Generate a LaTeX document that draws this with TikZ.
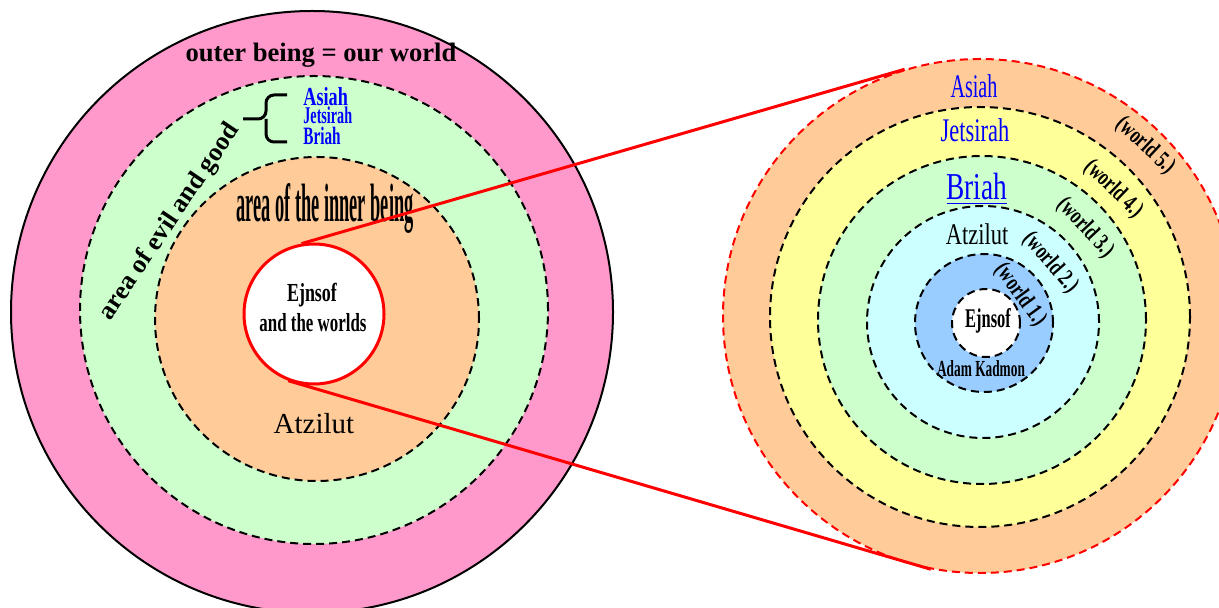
\documentclass[tikz,border=0pt]{standalone}
\usepackage{fontspec}
\setmainfont{Liberation Serif}
\definecolor{ringpink}{HTML}{FF99CC}
\definecolor{ringgreen}{HTML}{CCFFCC}
\definecolor{ringpeach}{HTML}{FFCC99}
\definecolor{ringyellow}{HTML}{FFFF99}
\definecolor{ringcyan}{HTML}{CCFFFF}
\definecolor{ringblue}{HTML}{99CCFF}
\definecolor{worldblue}{HTML}{0000FF}
\usepackage{tikz}
\newcommand{\narrow}[2]{\scalebox{#1}[1]{#2}}
\newcommand{\fsize}[1]{\fontsize{#1}{1.2\dimexpr#1pt\relax}\selectfont}
\tikzset{
  ring/.style={circle,draw=black,dash pattern=on 4pt off 2.5pt,line width=1pt,inner sep=0pt},
  redline/.style={red,line width=1.5pt},
  lbl/.style={inner sep=0pt,anchor=base},
  worldlbl/.style={inner sep=0pt,font=\fsize{12}\bfseries}
}

\begin{document}
\begin{tikzpicture}[x=0.5pt,y=-0.5pt]
  \useasboundingbox (0,0) rectangle (1219,608);
  % left: the whole being
  \node[circle,draw=black,line width=1pt,fill=ringpink,inner sep=0pt,minimum size=301pt] (outer) at (312,312) {};
  \node[ring,fill=ringgreen,minimum size=234pt] (evil) at (314,310) {};
  \node[ring,fill=ringpeach,minimum size=162pt] (inner) at (317,319) {};
  \node[circle,draw=red,line width=1.5pt,fill=white,inner sep=0pt,minimum size=70pt] (core) at (314,314) {};
  \node[lbl,font=\fsize{13.3}\bfseries] (outertxt) at (321,62) {outer being = our world};
  \node[lbl,font=\fsize{13}\bfseries,rotate=56,anchor=center] (eviltxt) at (170,222) {area of evil and good};
  \node[lbl,font=\fsize{27}\bfseries] (innertxt) at (325,222) {\narrow{0.34}{area of the inner being}};
  \node[lbl,font=\fsize{13}\bfseries,anchor=base west,text=worldblue] (asiahl) at (303,106) {\narrow{0.7}{Asiah}};
  \node[lbl,font=\fsize{12}\bfseries,anchor=base west,text=worldblue] (jetsirahl) at (303,124) {\narrow{0.59}{Jetsirah}};
  \node[lbl,font=\fsize{12.5}\bfseries,anchor=base west,text=worldblue] (briahl) at (303,145) {\narrow{0.61}{Briah}};
  \draw[line width=1.5pt,rounded corners=4pt] (287,95) -- (266,95) -- (266,119) -- (243,119)
    (266,119) -- (266,142) -- (287,142);
  \node[lbl,font=\fsize{13}\bfseries] (coretxt1) at (312,302) {\narrow{0.69}{Ejnsof}};
  \node[lbl,font=\fsize{13}\bfseries] (coretxt2) at (313,332) {\narrow{0.65}{and the worlds}};
  \node[lbl,font=\fsize{14.5}] (atzilutl) at (314,434) {Atzilut};
  % right: the worlds zoomed
  \node[circle,draw=red,dash pattern=on 4pt off 2.5pt,line width=1pt,fill=ringpeach,inner sep=0pt,minimum size=257pt] (zoom) at (980,316) {};
  \foreach \name/\x/\y/\r/\col in {yellowring/980/317/210/ringyellow,greenring/982/320/164/ringgreen,cyanring/983/322/116/ringcyan,bluering/984/323/69/ringblue,whitering/986/323/34/white}
    \node[ring,fill=\col,minimum size=\r pt] (\name) at (\x,\y) {};
  \node[lbl,font=\fsize{16.5},text=worldblue] (asiahr) at (974,98) {\narrow{0.61}{Asiah}};
  \node[lbl,font=\fsize{16.5},text=worldblue] (jetsirahr) at (975,142) {\narrow{0.68}{Jetsirah}};
  \node[lbl,font=\fsize{19},text=worldblue] (briahr) at (977,200) {\narrow{0.72}{\underline{Briah}}};
  \node[lbl,font=\fsize{15}] (atzilutr) at (977,245) {\narrow{0.75}{Atzilut}};
  \node[lbl,font=\fsize{13.5}\bfseries] (ejnsofr) at (988,328) {\narrow{0.61}{Ejnsof}};
  \node[lbl,font=\fsize{11.5}\bfseries] (kadmon) at (981,377) {\narrow{0.58}{Adam Kadmon}};
  \foreach \n/\x/\y/\a in {1/1020/295/-54,2/1050/263/-49,3/1085/228/-47,4/1113/189/-44,5/1145/146/-43}
    \node[worldlbl,rotate=\a] (world\n) at (\x,\y) {\narrow{0.72}{(world \n.)}};
  \draw[redline] (core.100) -- (zoom.107);
  \draw[redline] (core.249) -- (zoom.259);
\end{tikzpicture}
\end{document}
